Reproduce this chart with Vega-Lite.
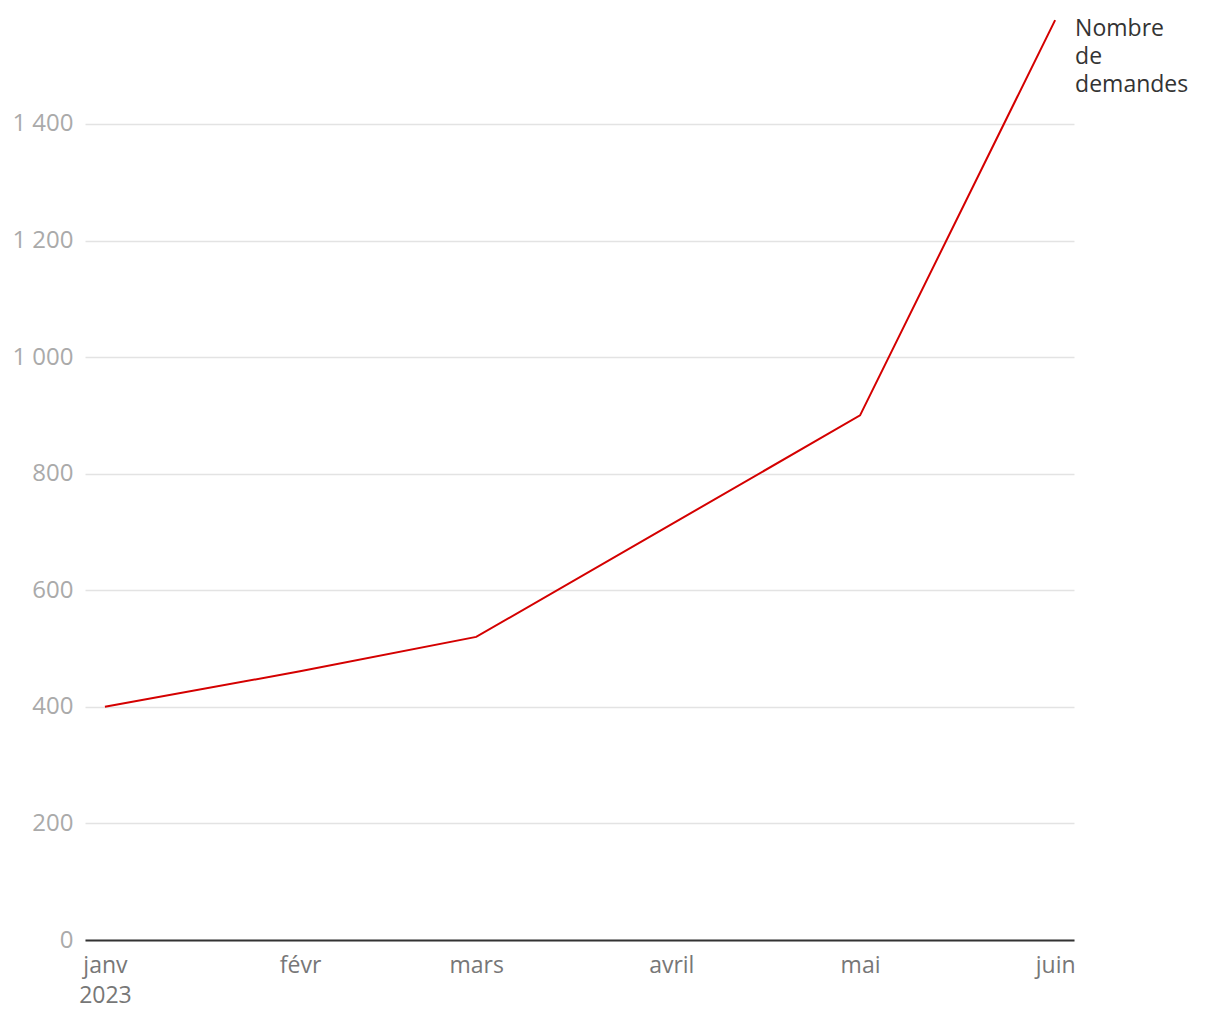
{
  "$schema": "https://vega.github.io/schema/vega-lite/v6.json",
  "width": 989,
  "height": 921,
  "autosize": {"type": "none"},
  "padding": {"left": 85, "top": 19, "right": 146, "bottom": 80},
  "background": "white",
  "config": {
    "view": {"stroke": null},
    "font": "Open Sans"
  },
  "data": {
    "values": [
      {"date": "2023-01-01", "demandes": 400},
      {"date": "2023-02-01", "demandes": 461},
      {"date": "2023-03-01", "demandes": 520},
      {"date": "2023-04-01", "demandes": 713},
      {"date": "2023-05-01", "demandes": 900},
      {"date": "2023-06-01", "demandes": 1578, "label": "Nombre de demandes"}
    ]
  },
  "encoding": {
    "x": {
      "field": "date",
      "type": "temporal",
      "scale": {
        "type": "utc",
        "domain": [
          {"year": 2022, "month": 12, "date": 28, "hours": 20, "utc": true},
          {"year": 2023, "month": 6, "date": 4, "utc": true}
        ]
      },
      "axis": {
        "title": null,
        "values": [
          {"year": 2023, "month": 1, "date": 1, "utc": true},
          {"year": 2023, "month": 2, "date": 1, "utc": true},
          {"year": 2023, "month": 3, "date": 1, "utc": true},
          {"year": 2023, "month": 4, "date": 1, "utc": true},
          {"year": 2023, "month": 5, "date": 1, "utc": true},
          {"year": 2023, "month": 6, "date": 1, "utc": true}
        ],
        "labelExpr": "utcmonth(datum.value) == 0 ? ['janv', '2023'] : ['janv','févr','mars','avril','mai','juin'][utcmonth(datum.value)]",
        "grid": false,
        "ticks": false,
        "domainColor": "#333333",
        "domainWidth": 2,
        "labelColor": "#777777",
        "labelFontSize": 23,
        "labelPadding": 14,
        "labelLineHeight": 30,
        "labelFlush": false,
        "labelOverlap": false
      }
    },
    "y": {
      "field": "demandes",
      "type": "quantitative",
      "scale": {"domain": [0, 1580], "nice": false},
      "axis": {
        "title": null,
        "values": [0, 200, 400, 600, 800, 1000, 1200, 1400],
        "labelExpr": "replace(format(datum.value, ','), ',', ' ')",
        "domain": false,
        "ticks": false,
        "gridColor": "#e3e3e3",
        "gridWidth": 1.5,
        "labelColor": "#aaaaaa",
        "labelFontSize": 24,
        "labelPadding": 12
      }
    }
  },
  "layer": [
    {
      "mark": {"type": "line", "color": "#d40000", "strokeWidth": 2}
    },
    {
      "transform": [{"filter": "datum.label != null"}],
      "mark": {
        "type": "text",
        "align": "left",
        "baseline": "top",
        "dx": 20,
        "dy": -2,
        "fontSize": 23,
        "lineHeight": 28,
        "color": "#333333"
      },
      "encoding": {
        "text": {"value": ["Nombre", "de", "demandes"]}
      }
    }
  ]
}
